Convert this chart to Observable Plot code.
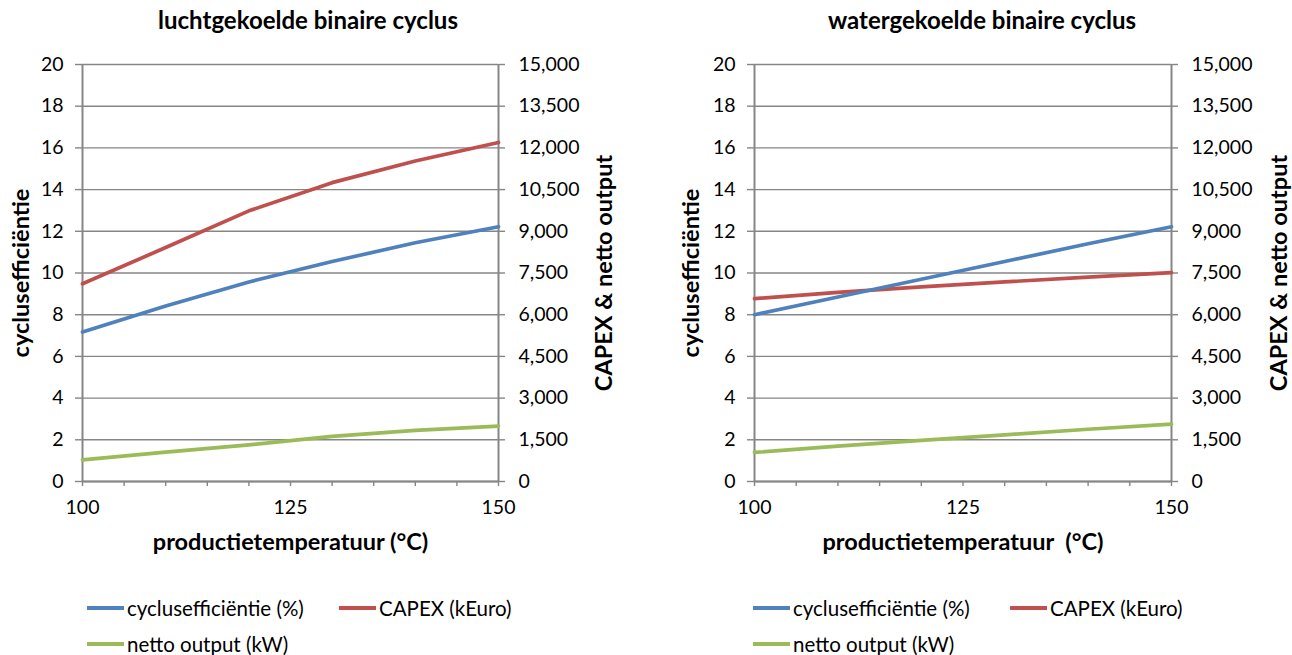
<!DOCTYPE html>
<html>
<head>
<meta charset="utf-8">
<script src="https://cdn.jsdelivr.net/npm/d3@7"></script>
<script src="https://cdn.jsdelivr.net/npm/@observablehq/plot@0.6"></script>
<style>
  body { margin: 0; background: #fff; }
  #chart { position: relative; width: 1292px; height: 655px; font-family: Lato, "Open Sans", sans-serif; color: #000; }
  .panel { position: absolute; top: 0; width: 646px; }
  .panel svg { display: block; }
  .title { position: absolute; top: 5px; font-weight: bold; font-size: 24px; white-space: nowrap; transform: translateX(-50%); }
  .legend-item { position: absolute; font-size: 20.5px; white-space: nowrap; display: flex; align-items: center; transform: translateY(-50%); }
  .swatch { display: inline-block; width: 37px; height: 4px; margin-right: 3px; }
</style>
</head>
<body>
<div id="chart"></div>
<script>
// Production temperatures (°C) at which both cycles were evaluated
const temperatures = [100, 110, 120, 130, 140, 150];

// Air-cooled binary cycle
const luchtEfficiency = [7.17, 8.42, 9.57, 10.55, 11.45, 12.22];    // %
const luchtCapex = [7115, 8415, 9735, 10750, 11530, 12195];         // kEuro
const luchtOutput = [780, 1058, 1320, 1620, 1838, 1995];            // kW

// Water-cooled binary cycle
const waterEfficiency = [8.0, 8.85, 9.7, 10.55, 11.4, 12.22];       // %
const waterCapex = [6580, 6800, 7000, 7180, 7350, 7510];            // kEuro
const waterOutput = [1045, 1270, 1480, 1680, 1880, 2065];           // kW

// Axis ticks
const leftTicks = [0, 2, 4, 6, 8, 10, 12, 14, 16, 18, 20];
const rightTicks = [0, 1500, 3000, 4500, 6000, 7500, 9000, 10500, 12000, 13500, 15000];
const xTicks = [100, 125, 150];
const xMinorTicks = [100, 105, 110, 115, 120, 125, 130, 135, 140, 145, 150];

// Series names and colours
const seriesNames = ["cyclusefficiëntie (%)", "CAPEX (kEuro)", "netto output (kW)"];
const seriesColors = ["#4F81BD", "#C0504D", "#9BBB59"];

const leftMax = 20, rightMax = 15000;
const ratio = rightMax / leftMax; // right-axis units per left-axis unit
const gray = "#868686";
const font = "Lato, 'Open Sans', sans-serif";

function panel({efficiency, capex, output, marginLeft, marginRight, xTitle, yTitleDx, y2TitleDx}) {
  return Plot.plot({
    width: 646,
    height: 560,
    marginTop: 64,
    marginBottom: 79,
    marginLeft,
    marginRight,
    style: {fontFamily: font, fontSize: "19.5px", color: "#000", background: "transparent"},
    x: {domain: [100, 150]},
    y: {domain: [0, leftMax]},
    marks: [
      Plot.gridY(leftTicks, {stroke: gray, strokeOpacity: 1, strokeWidth: 1.4}),
      Plot.ruleX([100, 150], {stroke: gray, strokeWidth: 2}),
      Plot.ruleY([0], {stroke: gray, strokeWidth: 2}),
      // left axis
      Plot.axisY(leftTicks, {anchor: "left", tickSize: 7, tickPadding: 12, stroke: gray, strokeWidth: 1.4, fill: "#000", label: null}),
      // right axis: CAPEX & netto output share the frame through the fixed ratio
      Plot.axisY(rightTicks.map(v => v / ratio), {
        anchor: "right", tickSize: 6, tickPadding: 14, stroke: gray, strokeWidth: 1.4, fill: "#000",
        textAnchor: "start", label: null,
        tickFormat: d => d3.format(",")(Math.round(d * ratio))
      }),
      // x ticks every 5 °C, labels every 25 °C
      Plot.axisX(xMinorTicks, {anchor: "bottom", tickSize: 5, stroke: gray, strokeWidth: 1.4, tickFormat: () => "", label: null}),
      Plot.axisX(xTicks, {anchor: "bottom", tickSize: 0, tickPadding: 19, fill: "#000", label: null}),
      // series
      Plot.line(temperatures, {x: t => t, y: (t, i) => output[i] / ratio, stroke: seriesColors[2], strokeWidth: 3.7}),
      Plot.line(temperatures, {x: t => t, y: (t, i) => capex[i] / ratio, stroke: seriesColors[1], strokeWidth: 3.7}),
      Plot.line(temperatures, {x: t => t, y: (t, i) => efficiency[i], stroke: seriesColors[0], strokeWidth: 3.7}),
      // axis titles
      Plot.text([xTitle], {frameAnchor: "bottom", dy: 68, fontWeight: "bold", fontSize: 23.5, fill: "#000"}),
      Plot.text(["cyclusefficiëntie"], {frameAnchor: "left", textAnchor: "middle", dx: yTitleDx, rotate: -90, fontWeight: "bold", fontSize: 23.5, fill: "#000"}),
      Plot.text(["CAPEX & netto output"], {frameAnchor: "right", textAnchor: "middle", dx: y2TitleDx, rotate: -90, fontWeight: "bold", fontSize: 23.5, fill: "#000"})
    ]
  });
}

const chart = document.getElementById("chart");

function addPanel(left, title, titleX, legendX, options) {
  const div = document.createElement("div");
  div.className = "panel";
  div.style.left = left + "px";
  div.appendChild(panel(options));
  chart.appendChild(div);

  const t = document.createElement("div");
  t.className = "title";
  t.style.left = titleX + "px";
  t.textContent = title;
  chart.appendChild(t);

  const positions = [[legendX[0], 608], [legendX[1], 608], [legendX[0], 644]];
  seriesNames.forEach((name, i) => {
    const item = document.createElement("div");
    item.className = "legend-item";
    item.style.left = positions[i][0] + "px";
    item.style.top = positions[i][1] + "px";
    const sw = document.createElement("span");
    sw.className = "swatch";
    sw.style.background = seriesColors[i];
    item.appendChild(sw);
    item.appendChild(document.createTextNode(name));
    chart.appendChild(item);
  });
}

addPanel(0, "luchtgekoelde binaire cyclus", 308, [87, 339], {
  efficiency: luchtEfficiency, capex: luchtCapex, output: luchtOutput,
  marginLeft: 82, marginRight: 148,
  xTitle: "productietemperatuur (°C)", yTitleDx: -61, y2TitleDx: 106
});

addPanel(646, "watergekoelde binaire cyclus", 982, [753, 1010], {
  efficiency: waterEfficiency, capex: waterCapex, output: waterOutput,
  marginLeft: 108, marginRight: 121,
  xTitle: "productietemperatuur\u00a0 (°C)", yTitleDx: -63, y2TitleDx: 108
});
</script>
</body>
</html>
